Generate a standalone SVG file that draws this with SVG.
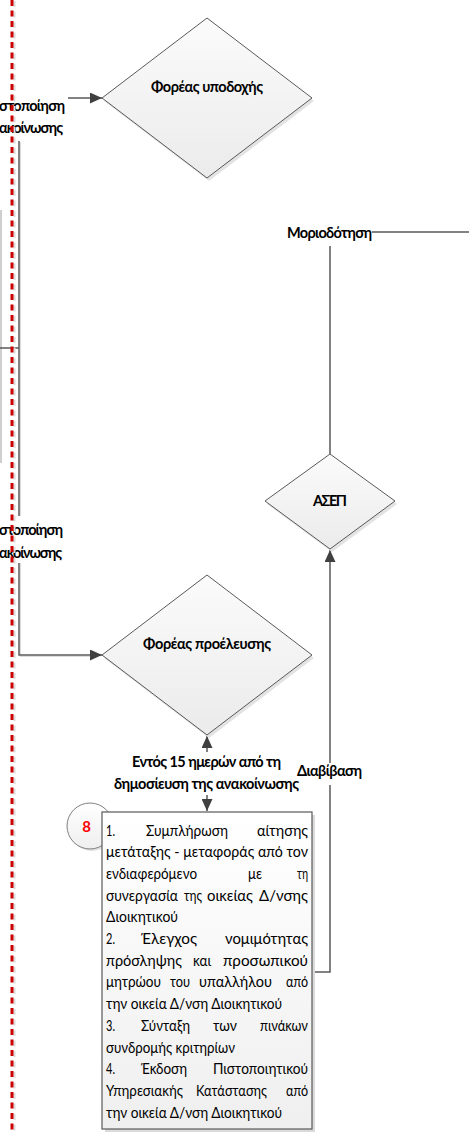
<svg xmlns="http://www.w3.org/2000/svg" width="469" height="1133" viewBox="0 0 469 1133">
<style>
.lbl{font-family:Lato,"Liberation Sans",sans-serif;font-weight:bold;font-size:14.5px;fill:#000}
.body text{font-family:Lato,"Liberation Sans",sans-serif;font-size:15px;fill:#000}
.conn{fill:none;stroke:#595959;stroke-width:1.5}
.shape{fill:url(#g);stroke:#595959;stroke-width:1}
.shadow{fill:#e3e3e3}
</style>
<defs>
<linearGradient id="g" x1="0" y1="0" x2="0" y2="1">
<stop offset="0" stop-color="#fbfbfb"/>
<stop offset="1" stop-color="#ebebeb"/>
</linearGradient>
<linearGradient id="gb" x1="0" y1="0" x2="0" y2="1">
<stop offset="0" stop-color="#ffffff"/>
<stop offset="1" stop-color="#efefef"/>
</linearGradient>
<marker id="arr" viewBox="0 0 12 11" refX="12" refY="5.5" markerWidth="12" markerHeight="11" markerUnits="userSpaceOnUse" orient="auto">
<path d="M0,0 L12,5.5 L0,11 z" fill="#404040"/>
</marker>
</defs>
<rect width="469" height="1133" fill="#fff"/>

<g id="left-box-edge">
<line x1="1" y1="210" x2="1" y2="463" stroke="#cfcfcf" stroke-width="2"/>
</g>

<g id="connectors">
<line class="conn" x1="68" y1="98" x2="102" y2="98" marker-end="url(#arr)"/>
<line x1="20.5" y1="142" x2="20.5" y2="516" stroke="#dcdcdc" stroke-width="1.2"/>
<line class="conn" x1="19" y1="141" x2="19" y2="516"/>
<line class="conn" x1="0" y1="348" x2="19" y2="348"/>
<path d="M20.5,563 V656.5 H90" fill="none" stroke="#dcdcdc" stroke-width="1.2"/>
<path class="conn" d="M19,563 V655 H102" marker-end="url(#arr)"/>
<line class="conn" x1="330" y1="454" x2="330" y2="246"/>
<line class="conn" x1="372" y1="232" x2="469" y2="232"/>
<path class="conn" d="M312,972 H330 V785"/>
<line class="conn" x1="330" y1="763" x2="330" y2="550" marker-end="url(#arr)"/>
<line class="conn" x1="207" y1="752" x2="207" y2="736" marker-end="url(#arr)"/>
<line class="conn" x1="207" y1="795" x2="207" y2="811" marker-end="url(#arr)"/>
<text class="lbl" x="65" y="111" text-anchor="end" textLength="66">στοποίηση</text>
<text class="lbl" x="63" y="133" text-anchor="end" textLength="64">ακοίνωσης</text>
<text class="lbl" x="63" y="535" text-anchor="end" textLength="64">στοποίηση</text>
<text class="lbl" x="62" y="558" text-anchor="end" textLength="63">ακοίνωσης</text>
<text class="lbl" x="329.5" y="238" text-anchor="middle" textLength="85">Μοριοδότηση</text>
<text class="lbl" x="206.5" y="767" text-anchor="middle" textLength="149">Εντός 15 ημερών από τη</text>
<text class="lbl" x="206.5" y="789" text-anchor="middle" textLength="185">δημοσίευση της ανακοίνωσης</text>
<text class="lbl" x="329.5" y="776" text-anchor="middle" textLength="65">Διαβίβαση</text>
</g>

<g id="node-foreas-ypodoxis">
<polygon class="shadow" points="209,21 314,101 209,181 104,101"/>
<polygon class="shape" points="207,18 312,98 207,178 102,98"/>
<text class="lbl" x="207" y="92" text-anchor="middle" textLength="112">Φορέας υποδοχής</text>
</g>

<g id="node-asep">
<polygon class="shadow" points="332,457 397,504 332,552 267,504"/>
<polygon class="shape" points="330,454 395,501 330,549 265,501"/>
<text class="lbl" x="330" y="506" text-anchor="middle" textLength="34">ΑΣΕΠ</text>
</g>

<g id="node-foreas-proeleusis">
<polygon class="shadow" points="209,578 314,658 209,738 104,658"/>
<polygon class="shape" points="207,575 312,655 207,735 102,655"/>
<text class="lbl" x="207" y="649" text-anchor="middle" textLength="128">Φορέας προέλευσης</text>
</g>

<g id="node-step-8" class="body">
<circle cx="92" cy="828" r="23" fill="#e3e3e3"/>
<circle cx="90" cy="826" r="23" fill="url(#gb)" stroke="#7f7f7f" stroke-width="1"/>
<text x="86.5" y="832" text-anchor="middle" style="font-weight:bold;font-size:15px;fill:#ff0000">8</text>
<rect x="105" y="815" width="210" height="317" fill="#dadada"/>
<rect x="102" y="812" width="210" height="317" fill="url(#gb)" stroke="#595959" stroke-width="1.2"/>
<text x="106" y="836" textLength="9" lengthAdjust="spacingAndGlyphs">1.</text>
<text x="146" y="836" textLength="82" lengthAdjust="spacingAndGlyphs">Συμπλήρωση</text>
<text x="257" y="836" textLength="51" lengthAdjust="spacingAndGlyphs">αίτησης</text>
<text x="106" y="857" textLength="202" lengthAdjust="spacingAndGlyphs">μετάταξης - μεταφοράς από τον</text>
<text x="106" y="879" textLength="91" lengthAdjust="spacingAndGlyphs">ενδιαφερόμενο</text>
<text x="248" y="879" textLength="14" lengthAdjust="spacingAndGlyphs">με</text>
<text x="297" y="879" textLength="11" lengthAdjust="spacingAndGlyphs">τη</text>
<text x="106" y="901" textLength="72" lengthAdjust="spacingAndGlyphs">συνεργασία</text>
<text x="184" y="901" textLength="18" lengthAdjust="spacingAndGlyphs">της</text>
<text x="207" y="901" textLength="46" lengthAdjust="spacingAndGlyphs">οικείας</text>
<text x="259" y="901" textLength="49" lengthAdjust="spacingAndGlyphs">Δ/νσης</text>
<text x="106" y="922" textLength="72" lengthAdjust="spacingAndGlyphs">Διοικητικού</text>
<text x="106" y="944" textLength="9" lengthAdjust="spacingAndGlyphs">2.</text>
<text x="141" y="944" textLength="56" lengthAdjust="spacingAndGlyphs">Έλεγχος</text>
<text x="225" y="944" textLength="83" lengthAdjust="spacingAndGlyphs">νομιμότητας</text>
<text x="106" y="966" textLength="76" lengthAdjust="spacingAndGlyphs">πρόσληψης</text>
<text x="193" y="966" textLength="18" lengthAdjust="spacingAndGlyphs">και</text>
<text x="223" y="966" textLength="85" lengthAdjust="spacingAndGlyphs">προσωπικού</text>
<text x="106" y="987" textLength="55" lengthAdjust="spacingAndGlyphs">μητρώου</text>
<text x="170" y="987" textLength="20" lengthAdjust="spacingAndGlyphs">του</text>
<text x="199" y="987" textLength="73" lengthAdjust="spacingAndGlyphs">υπαλλήλου</text>
<text x="286" y="987" textLength="22" lengthAdjust="spacingAndGlyphs">από</text>
<text x="106" y="1009" textLength="176" lengthAdjust="spacingAndGlyphs">την οικεία Δ/νση Διοικητικού</text>
<text x="106" y="1031" textLength="9" lengthAdjust="spacingAndGlyphs">3.</text>
<text x="141" y="1031" textLength="49" lengthAdjust="spacingAndGlyphs">Σύνταξη</text>
<text x="213" y="1031" textLength="24" lengthAdjust="spacingAndGlyphs">των</text>
<text x="260" y="1031" textLength="48" lengthAdjust="spacingAndGlyphs">πινάκων</text>
<text x="106" y="1053" textLength="129" lengthAdjust="spacingAndGlyphs">συνδρομής κριτηρίων</text>
<text x="106" y="1074" textLength="9" lengthAdjust="spacingAndGlyphs">4.</text>
<text x="141" y="1074" textLength="46" lengthAdjust="spacingAndGlyphs">Έκδοση</text>
<text x="213" y="1074" textLength="95" lengthAdjust="spacingAndGlyphs">Πιστοποιητικού</text>
<text x="106" y="1096" textLength="77" lengthAdjust="spacingAndGlyphs">Υπηρεσιακής</text>
<text x="196" y="1096" textLength="71" lengthAdjust="spacingAndGlyphs">Κατάστασης</text>
<text x="286" y="1096" textLength="22" lengthAdjust="spacingAndGlyphs">από</text>
<text x="106" y="1118" textLength="176" lengthAdjust="spacingAndGlyphs">την οικεία Δ/νση Διοικητικού</text>
</g>

<g id="lane-divider">
<line x1="14.5" y1="1" x2="14.5" y2="1133" stroke="#dcdcdc" stroke-width="2" stroke-dasharray="6 4.5"/>
<line x1="12" y1="0" x2="12" y2="1133" stroke="#cc0000" stroke-width="3" stroke-dasharray="6 4.5"/>
</g>
</svg>
